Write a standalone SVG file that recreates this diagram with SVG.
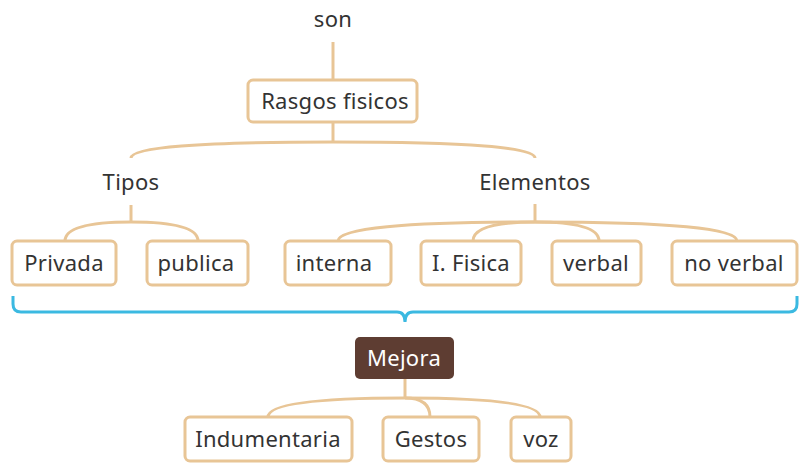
<svg xmlns="http://www.w3.org/2000/svg" width="808" height="476" viewBox="0 0 808 476">
<style>
.box{fill:#fff;stroke:#E8C596;stroke-width:3}
.dark{fill:#5E3D32;stroke:none}
.t{font-family:"Noto Sans","Open Sans",sans-serif;font-size:22px;letter-spacing:0.3px;fill:#333;text-anchor:middle}
.w{fill:#fff}
.c{fill:none;stroke:#E8C596;stroke-width:3}
.b{fill:none;stroke:#3BB9E1;stroke-width:3}
</style>
<rect width="808" height="476" fill="#fff"/>
<g id="connectors">
<path class="c" d="M333 42 V80"/>
<path class="c" d="M333 122 V142"/>
<path class="c" d="M333 142 Q131 142 131 158"/>
<path class="c" d="M333 142 Q535 142 535 158"/>
<path class="c" d="M131 205 V222"/>
<path class="c" d="M131 222 Q65 222 65 241"/>
<path class="c" d="M131 222 Q198 222 198 241"/>
<path class="c" d="M535 204 V222"/>
<path class="c" d="M535 222 Q338 222 338 241"/>
<path class="c" d="M535 222 Q473 222 473 241"/>
<path class="c" d="M535 222 Q599 222 599 241"/>
<path class="c" d="M535 222 Q737 222 737 241"/>
<path class="c" d="M405 379 V398"/>
<path class="c" d="M405 398 Q268 398 268 417"/>
<path class="c" d="M405 398 Q430 398 430 417"/>
<path class="c" d="M405 398 Q540 398 540 417"/>
<path class="b" d="M13 296 V304 Q13 312 21 312 H397 Q405 312 405 322 Q405 312 413 312 H789 Q797 312 797 304 V296"/>
</g>
<g id="son"><text class="t" x="333" y="27">son</text></g>
<g id="rasgos"><rect class="box" x="248" y="80" width="169" height="42" rx="5"/><text class="t" x="335" y="109">Rasgos fisicos</text></g>
<g id="tipos"><text class="t" x="131" y="190">Tipos</text></g>
<g id="elementos"><text class="t" x="535" y="190">Elementos</text></g>
<g id="privada"><rect class="box" x="12" y="241" width="104" height="44" rx="5"/><text class="t" x="64" y="271">Privada</text></g>
<g id="publica"><rect class="box" x="147" y="241" width="101" height="44" rx="5"/><text class="t" x="196" y="271">publica</text></g>
<g id="interna"><rect class="box" x="285" y="241" width="106" height="44" rx="5"/><text class="t" x="334" y="271">interna</text></g>
<g id="ifisica"><rect class="box" x="421" y="241" width="100" height="44" rx="5"/><text class="t" x="471" y="271">I. Fisica</text></g>
<g id="verbal"><rect class="box" x="552" y="241" width="89" height="44" rx="5"/><text class="t" x="596" y="271">verbal</text></g>
<g id="noverbal"><rect class="box" x="672" y="241" width="125" height="44" rx="5"/><text class="t" x="734" y="271">no verbal</text></g>
<g id="mejora"><rect class="dark" x="355" y="337" width="99" height="42" rx="5"/><text class="t w" x="404" y="366">Mejora</text></g>
<g id="indumentaria"><rect class="box" x="185" y="417" width="167" height="44" rx="5"/><text class="t" x="268" y="447">Indumentaria</text></g>
<g id="gestos"><rect class="box" x="383" y="417" width="96" height="44" rx="5"/><text class="t" x="431" y="447">Gestos</text></g>
<g id="voz"><rect class="box" x="511" y="417" width="60" height="44" rx="5"/><text class="t" x="541" y="447">voz</text></g>
</svg>
